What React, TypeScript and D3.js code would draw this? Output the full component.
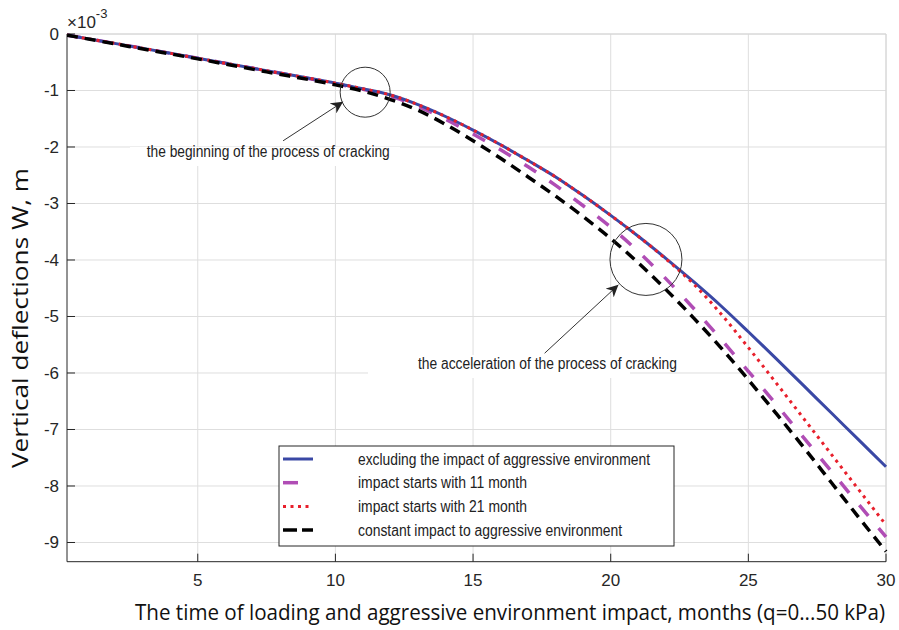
import React from "react";
import * as d3 from "d3";

const months = [0.25, 2.5, 5, 7.5, 10, 11, 12, 13, 14, 15, 16, 17, 18, 19, 20, 21, 22, 23, 24, 25, 26, 27, 28, 29, 30];
const excluding = [-0.02, -0.21, -0.43, -0.65, -0.87, -0.97, -1.08, -1.25, -1.46, -1.70, -1.96, -2.24, -2.53, -2.86, -3.21, -3.58, -3.97, -4.38, -4.81, -5.27, -5.74, -6.22, -6.70, -7.18, -7.66];
const start11 = [-0.02, -0.21, -0.43, -0.65, -0.88, -0.98, -1.10, -1.28, -1.51, -1.77, -2.05, -2.35, -2.68, -3.04, -3.42, -3.85, -4.33, -4.85, -5.40, -5.97, -6.55, -7.14, -7.73, -8.32, -8.90];
const start21 = [-0.02, -0.21, -0.43, -0.65, -0.87, -0.97, -1.08, -1.25, -1.46, -1.70, -1.96, -2.24, -2.53, -2.86, -3.21, -3.58, -3.98, -4.42, -4.95, -5.55, -6.17, -6.80, -7.43, -8.06, -8.69];
const constant = [-0.02, -0.22, -0.44, -0.67, -0.90, -1.01, -1.16, -1.35, -1.60, -1.89, -2.20, -2.53, -2.87, -3.23, -3.62, -4.05, -4.52, -5.02, -5.55, -6.12, -6.71, -7.31, -7.93, -8.55, -9.16];

const xTicks = [5, 10, 15, 20, 25, 30];
const yTicks = [0, -1, -2, -3, -4, -5, -6, -7, -8, -9];

const legendLabels = [
  "excluding the impact of aggressive environment",
  "impact starts with 11 month",
  "impact starts with 21 month",
  "constant impact to aggressive environment",
];

const xLabel = "The time of loading and aggressive environment impact, months (q=0...50 kPa)";
const yLabel = "Vertical deflections W, m";
const note1 = "the beginning of the process of cracking";
const note2 = "the acceleration of the process of cracking";

// annotation positions in data units
const circles = [
  { x: 11.08, y: -1.03, r: 25 },
  { x: 21.28, y: -3.99, r: 36 },
];
const arrows = [
  { x1: 8.1, y1: -1.89, x2: 10.28, y2: -1.2 },
  { x1: 17.6, y1: -5.65, x2: 20.28, y2: -4.44 },
];

export default function App() {
  const W = 899, H = 630;
  const x = d3.scaleLinear().domain([0.25, 30]).range([67, 886]);
  const y = d3.scaleLinear().domain([-9.34, 0]).range([561.7, 34]);
  const line = (vals: number[]) =>
    d3.line<number>().x((_, i) => x(months[i])).y((v) => y(v)).curve(d3.curveMonotoneX)(vals) || "";

  const series = [
    { vals: start11, color: "#b04db5", dash: "14,16", w: 3.5, key: 1 },
    { vals: excluding, color: "#3a48a5", dash: "", w: 3, key: 0 },
    { vals: start21, color: "#e8202c", dash: "3,4.5", w: 3, key: 2 },
    { vals: constant, color: "#000000", dash: "11,7", w: 3.5, key: 3 },
  ];
  const legendStyle = [
    { color: "#3a48a5", dash: "", w: 3 },
    { color: "#b04db5", dash: "15,30", w: 3.5 },
    { color: "#e8202c", dash: "3,4.5", w: 3 },
    { color: "#000000", dash: "14,5", w: 3.5 },
  ];
  const legendWidths = [292, 169, 169, 264];

  const x0 = x.range()[0], x1 = x.range()[1];
  const yb = y.range()[0], yt = y.range()[1];
  const tickFont = "Liberation Sans, Arial, sans-serif";

  return (
    <svg width={W} height={H} style={{ position: "absolute", left: 0, top: 0, background: "#fff" }}>
      <defs>
        <marker id="ah" viewBox="0 0 10 10" refX="10" refY="5" markerWidth="12" markerHeight="12" markerUnits="userSpaceOnUse" orient="auto">
          <path d="M0,0 L10,5 L0,10 L3,5 Z" fill="#222" />
        </marker>
        <clipPath id="plot">
          <rect x={x0} y={yt - 4} width={x1 - x0 + 4} height={yb - yt + 4} />
        </clipPath>
      </defs>
      <rect x={0} y={0} width={W} height={H} fill="#fff" />
      {/* grid */}
      {xTicks.map((t) => (
        <line key={"gx" + t} x1={x(t)} x2={x(t)} y1={yt} y2={yb} stroke="#dedede" strokeWidth={1} />
      ))}
      {yTicks.map((t) => (
        <line key={"gy" + t} x1={x0} x2={x1} y1={y(t)} y2={y(t)} stroke="#dedede" strokeWidth={1} />
      ))}
      {/* box top/right */}
      <line x1={x0} x2={x1} y1={yt} y2={yt} stroke="#d4d4d4" />
      <line x1={x1} x2={x1} y1={yt} y2={yb} stroke="#d4d4d4" />
      {/* annotation white boxes */}
      <rect x={130} y={147} width={270} height={19} fill="#fff" />
      <rect x={368} y={355} width={262} height={23} fill="#fff" />
      {/* axes */}
      <line x1={x0} x2={x0} y1={yt} y2={yb} stroke="#262626" strokeWidth={1} />
      <line x1={x0} x2={x1} y1={yb} y2={yb} stroke="#262626" strokeWidth={1} />
      {xTicks.map((t) => (
        <g key={"tx" + t}>
          <line x1={x(t)} x2={x(t)} y1={yb} y2={yb - 8} stroke="#262626" />
          <text x={x(t)} y={yb + 24.5} textAnchor="middle" fontFamily={tickFont} fontSize={17} fill="#262626">{t}</text>
        </g>
      ))}
      {yTicks.map((t) => (
        <g key={"ty" + t}>
          <line x1={x0} x2={x0 + 8} y1={y(t)} y2={y(t)} stroke="#262626" />
          <text x={x0 - 8} y={y(t) + 6} textAnchor="end" fontFamily={tickFont} fontSize={17} fill="#262626">{t}</text>
        </g>
      ))}
      <text x={x0} y={28} fontFamily={tickFont} fontSize={17} fill="#262626">
        ×10<tspan dy={-10} fontSize={13}>-3</tspan>
      </text>
      {/* series */}
      <g clipPath="url(#plot)">
        {series.map((s) => (
          <path key={s.key} d={line(s.vals)} fill="none" stroke={s.color} strokeWidth={s.w} strokeDasharray={s.dash || undefined} />
        ))}
      </g>
      {/* annotations */}
      {circles.map((c, i) => (
        <circle key={"c" + i} cx={x(c.x)} cy={y(c.y)} r={c.r} fill="none" stroke="#333" strokeWidth={1} />
      ))}
      {arrows.map((a, i) => (
        <line key={"a" + i} x1={x(a.x1)} y1={y(a.y1)} x2={x(a.x2)} y2={y(a.y2)} stroke="#333" strokeWidth={1} markerEnd="url(#ah)" />
      ))}
      <text x={x(7.56)} y={y(-2.18)} textAnchor="middle" fontFamily={tickFont} fontSize={16} fill="#222" textLength={243} lengthAdjust="spacingAndGlyphs">{note1}</text>
      <text x={x(17.7)} y={y(-5.93)} textAnchor="middle" fontFamily={tickFont} fontSize={16} fill="#222" textLength={259} lengthAdjust="spacingAndGlyphs">{note2}</text>
      {/* legend */}
      <rect x={279} y={446} width={395} height={100} fill="#fff" stroke="#262626" strokeWidth={1} />
      {legendLabels.map((l, i) => {
        const ly = 459 + i * 23.7;
        const st = legendStyle[i];
        return (
          <g key={"lg" + i}>
            <line x1={283} x2={313} y1={ly} y2={ly} stroke={st.color} strokeWidth={st.w} strokeDasharray={st.dash || undefined} />
            <text x={358} y={ly + 5.5} fontFamily={tickFont} fontSize={16} fill="#222" textLength={legendWidths[i]} lengthAdjust="spacingAndGlyphs">{l}</text>
          </g>
        );
      })}
      {/* axis labels */}
      <text x={135} y={620} fontFamily="Open Sans, Noto Sans, sans-serif" fontSize={21} fill="#111" textLength={750} lengthAdjust="spacingAndGlyphs">{xLabel}</text>
      <text transform={`translate(28,${318}) rotate(-90)`} textAnchor="middle" fontFamily="Open Sans, Noto Sans, sans-serif" fontSize={22} fill="#111" textLength={300} lengthAdjust="spacingAndGlyphs">{yLabel}</text>
    </svg>
  );
}
